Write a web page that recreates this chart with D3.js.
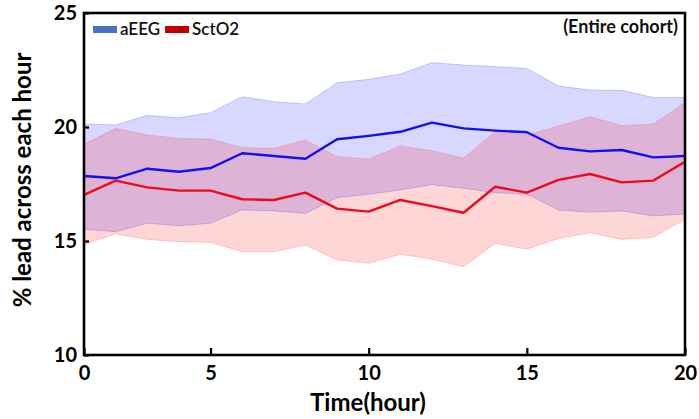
<!DOCTYPE html>
<html>
<head>
<meta charset="utf-8">
<script src="https://cdn.jsdelivr.net/npm/d3@7"></script>
<style>
  html, body { margin: 0; padding: 0; background: #fff; }
  svg { display: block; font-family: Lato, "Open Sans", sans-serif; }
</style>
</head>
<body>
<svg id="chart" width="699" height="419"></svg>
<script>
// Hourly share of leads (%), mean with spread band, per modality
const hours = [1, 2, 3, 4, 5, 6, 7, 8, 9, 10, 11, 12, 13, 14, 15, 16, 17, 18, 19, 20];

const aeegMean  = [17.85, 17.75, 18.17, 18.04, 18.20, 18.85, 18.73, 18.61, 19.46, 19.61,
                   19.79, 20.19, 19.94, 19.84, 19.77, 19.09, 18.93, 18.99, 18.67, 18.73];
const aeegUpper = [20.13, 20.09, 20.51, 20.41, 20.63, 21.33, 21.11, 21.01, 21.94, 22.09,
                   22.32, 22.82, 22.72, 22.65, 22.57, 21.80, 21.62, 21.61, 21.29, 21.29];
const aeegLower = [15.51, 15.41, 15.78, 15.67, 15.78, 16.36, 16.32, 16.21, 16.90, 17.05,
                   17.24, 17.47, 17.31, 17.12, 17.05, 16.36, 16.26, 16.32, 16.10, 16.18];

const sctMean   = [17.02, 17.65, 17.35, 17.21, 17.21, 16.83, 16.80, 17.12, 16.42, 16.29,
                   16.80, 16.53, 16.24, 17.38, 17.12, 17.68, 17.94, 17.57, 17.65, 18.48];
const sctUpper  = [19.24, 19.94, 19.65, 19.50, 19.47, 19.10, 19.06, 19.43, 18.70, 18.60,
                   19.17, 18.96, 18.64, 19.79, 19.65, 20.04, 20.45, 20.06, 20.13, 21.07];
const sctLower  = [14.85, 15.31, 15.07, 14.97, 14.94, 14.53, 14.53, 14.82, 14.17, 14.02,
                   14.42, 14.20, 13.87, 14.90, 14.64, 15.11, 15.36, 15.07, 15.16, 15.95];

const xTickValues = [1, 5, 10, 15, 20];
const xTickLabels = ["0", "5", "10", "15", "20"];
const yTickValues = [10, 15, 20, 25];

const legendItems = [
  { name: "aEEG",  color: "#4472c4" },
  { name: "SctO2", color: "#c00000" }
];

const svg = d3.select("#chart");
const margin = { left: 84, right: 14, top: 13, bottom: 64 };
const W = 699, H = 419;
const x = d3.scaleLinear().domain([1, 20]).range([margin.left, W - margin.right]);
const y = d3.scaleLinear().domain([10, 25]).range([H - margin.bottom, margin.top]);

const series = [
  { mean: aeegMean, lo: aeegLower, hi: aeegUpper, band: "rgba(0,0,255,0.155)", edge: "rgba(80,80,255,0.35)", line: "#1010f0" },
  { mean: sctMean,  lo: sctLower,  hi: sctUpper,  band: "rgba(255,0,0,0.16)",  edge: "rgba(255,90,90,0.35)", line: "#ee0a1e" }
];

const area = (lo, hi) => d3.area()
  .x((d, i) => x(hours[i]))
  .y0((d, i) => y(lo[i]))
  .y1((d, i) => y(hi[i]));
const line = d3.line().x((d, i) => x(hours[i])).y(d => y(d));

// spread bands
series.forEach(s => {
  svg.append("path")
    .datum(hours)
    .attr("d", area(s.lo, s.hi))
    .attr("fill", s.band)
    .attr("stroke", s.edge)
    .attr("stroke-width", 0.8);
});

// mean lines
series.forEach(s => {
  svg.append("path")
    .datum(s.mean)
    .attr("d", line)
    .attr("fill", "none")
    .attr("stroke", s.line)
    .attr("stroke-width", 2.4)
    .attr("stroke-linejoin", "round");
});

// frame
svg.append("rect")
  .attr("x", x(1)).attr("y", y(25))
  .attr("width", x(20) - x(1)).attr("height", y(10) - y(25))
  .attr("fill", "none").attr("stroke", "#000").attr("stroke-width", 2.6);

// axes
const xAxis = d3.axisBottom(x)
  .tickValues(xTickValues)
  .tickFormat((d, i) => xTickLabels[i])
  .tickSizeInner(-7).tickSizeOuter(0).tickPadding(11);
const gx = svg.append("g").attr("transform", `translate(0,${y(10)})`).call(xAxis);
gx.select(".domain").remove();
gx.selectAll(".tick line").attr("stroke", "#000").attr("stroke-width", 2.2);
gx.selectAll(".tick text")
  .attr("font-size", 20).attr("font-weight", 700).attr("fill", "#000")
  .attr("font-family", "Lato, sans-serif");

const yAxis = d3.axisLeft(y)
  .tickValues(yTickValues)
  .tickFormat(d3.format("d"))
  .tickSizeInner(-5).tickSizeOuter(0).tickPadding(7);
const gy = svg.append("g").attr("transform", `translate(${x(1)},0)`).call(yAxis);
gy.select(".domain").remove();
gy.selectAll(".tick line").attr("stroke", "#000").attr("stroke-width", 2.2);
gy.selectAll(".tick text")
  .attr("font-size", 20).attr("font-weight", 700).attr("fill", "#000")
  .attr("font-family", "Lato, sans-serif");

// axis titles
svg.append("text")
  .attr("x", 368).attr("y", 411)
  .attr("text-anchor", "middle")
  .attr("font-size", 24).attr("font-weight", 700)
  .text("Time(hour)");

svg.append("text")
  .attr("transform", "translate(31,180) rotate(-90)")
  .attr("text-anchor", "middle")
  .attr("font-size", 24).attr("font-weight", 700)
  .text("% lead across each hour");

// legend
const legend = svg.append("g").attr("transform", "translate(93,26)");
let lx = 0;
legendItems.forEach(item => {
  const g = legend.append("g").attr("transform", `translate(${lx},0)`);
  g.append("rect").attr("width", 24).attr("height", 7).attr("fill", item.color);
  const t = g.append("text").attr("x", 27).attr("y", 9)
    .attr("font-size", 17).attr("font-weight", 600).attr("fill", "#111")
    .text(item.name);
  lx += 27 + t.node().getComputedTextLength() + 5;
});

svg.append("text")
  .attr("x", 678).attr("y", 33)
  .attr("text-anchor", "end")
  .attr("font-size", 18).attr("font-weight", 700).attr("fill", "#111")
  .text("(Entire cohort)");
</script>
</body>
</html>
